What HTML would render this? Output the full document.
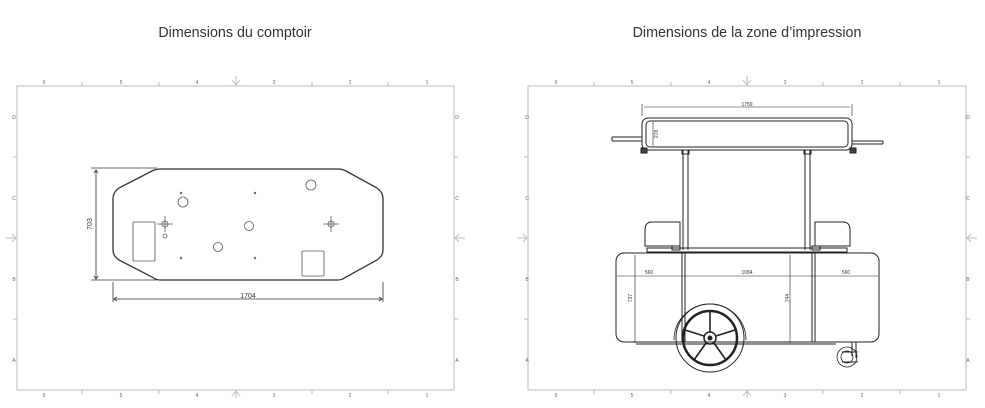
<!DOCTYPE html>
<html><head><meta charset="utf-8"><style>
html,body{margin:0;padding:0;background:#fff;}
svg{display:block;}
text{font-family:"Liberation Sans",sans-serif;}
</style></head><body>
<svg width="985" height="408" viewBox="0 0 985 408" xmlns="http://www.w3.org/2000/svg">
<text x="235" y="37" font-size="14.3" text-anchor="middle" fill="#333">Dimensions du comptoir</text>
<text x="747" y="37" font-size="14.3" text-anchor="middle" fill="#333">Dimensions de la zone d’impression</text>

<!-- LEFT FRAME -->
<g stroke="#bbb" stroke-width="1" fill="none">
<rect x="17" y="86" width="437" height="304"/>
<path d="M82 82v4M159 82v4M312 82v4M388 82v4M82 390v4M159 390v4M312 390v4M388 390v4M13 157h4M13 319h4M454 157h4M454 319h4"/>
<path d="M236 76v8M232 80l4 5 4-5M236 390v8M232 396l4-5 4 5M6 238h10M12 234l4 4-4 4M455 238h10M459 234l-4 4 4 4"/>
</g>
<g font-size="5" fill="#666" text-anchor="middle">
<text x="44" y="84">6</text><text x="121" y="84">5</text><text x="197" y="84">4</text><text x="274" y="84">3</text><text x="350" y="84">2</text><text x="427" y="84">1</text>
<text x="44" y="397">6</text><text x="121" y="397">5</text><text x="197" y="397">4</text><text x="274" y="397">3</text><text x="350" y="397">2</text><text x="427" y="397">1</text>
<text x="14" y="119">D</text><text x="14" y="200">C</text><text x="14" y="281">B</text><text x="14" y="362">A</text>
<text x="457" y="119">D</text><text x="457" y="200">C</text><text x="457" y="281">B</text><text x="457" y="362">A</text>
</g>
<g stroke="#333" fill="none" stroke-width="1">
<path d="M160 169H338Q342 169 346 171L377 188Q383 192 383 199V250Q383 256 377 260L346 277Q342 280 338 280H160Q156 280 152 277L119 260Q113 256 113 250V199Q113 192 119 188L152 171Q156 169 160 169Z" stroke-width="1.3"/>
<path d="M91 168h66M91 280h66M96 170v109M113 282v20M383 282v20M114 299h268" stroke-width="0.8"/>
<path d="M94 173l2-3 2 3M94 276l2 3 2-3M117 297l-3 2 3 2M379 297l3 2-3 2" stroke-width="0.8"/>
</g>
<text x="92" y="224" font-size="7" fill="#333" transform="rotate(-90 92 224)" text-anchor="middle">703</text>
<text x="248" y="298" font-size="7" fill="#333" text-anchor="middle">1704</text>
<g stroke="#555" fill="none" stroke-width="0.8">
<rect x="133" y="222" width="22" height="39" rx="1"/>
<rect x="302" y="251" width="22" height="25" rx="1"/>
<circle cx="183" cy="202" r="5"/><circle cx="311" cy="185" r="5"/><circle cx="249" cy="226" r="4.5"/><circle cx="218" cy="247" r="4.5"/>
<circle cx="165" cy="236" r="2"/>
<circle cx="165" cy="224" r="3"/><path d="M157 224h16M165 216v16"/>
<circle cx="331" cy="224" r="3"/><path d="M323 224h16M331 216v16"/>
<circle cx="181" cy="193" r="0.8"/><circle cx="255" cy="193" r="0.8"/><circle cx="181" cy="258" r="0.8"/><circle cx="255" cy="258" r="0.8"/>
</g>

<!-- RIGHT FRAME -->
<g stroke="#bbb" stroke-width="1" fill="none">
<rect x="528" y="86" width="438" height="304"/>
<path d="M594 82v4M671 82v4M823 82v4M900 82v4M594 390v4M671 390v4M823 390v4M900 390v4M524 157h4M524 319h4M966 157h4M966 319h4"/>
<path d="M747 76v8M743 80l4 5 4-5M747 390v8M743 396l4-5 4 5M517 238h10M523 234l4 4-4 4M967 238h10M971 234l-4 4 4 4"/>
</g>
<g font-size="5" fill="#666" text-anchor="middle">
<text x="556" y="84">6</text><text x="632" y="84">5</text><text x="709" y="84">4</text><text x="785" y="84">3</text><text x="862" y="84">2</text><text x="939" y="84">1</text>
<text x="556" y="397">6</text><text x="632" y="397">5</text><text x="709" y="397">4</text><text x="785" y="397">3</text><text x="862" y="397">2</text><text x="939" y="397">1</text>
<text x="527" y="119">D</text><text x="527" y="200">C</text><text x="527" y="281">B</text><text x="527" y="362">A</text>
<text x="968" y="119">D</text><text x="968" y="200">C</text><text x="968" y="281">B</text><text x="968" y="362">A</text>
</g>
<g stroke="#222" fill="none" stroke-width="1">
<rect x="642" y="118" width="210" height="32" rx="6"/>
<rect x="646" y="121" width="202" height="26" rx="4"/>
<path d="M612 137h30M612 141h30M852 141h31M852 144h31M612 137v4M883 141v3"/>
<path d="M642 104v12M852 104v12M644 107h206" stroke-width="0.6"/>
<path d="M653 122v24" stroke-width="0.6"/>
<rect x="641" y="148" width="6" height="5" fill="#444"/><rect x="850" y="148" width="6" height="5" fill="#444"/>
<path d="M683 150v100M688 150v100M805 150v100M810 150v100"/>
<rect x="682" y="150" width="7" height="4"/><rect x="804" y="150" width="7" height="4"/>
<path d="M680 222H652Q645 222 645 230V246H680Z"/>
<path d="M815 222H843Q850 222 850 230V246H815Z"/>
<rect x="647" y="248" width="200" height="4"/>
<rect x="672" y="246" width="8" height="4"/><rect x="812" y="246" width="8" height="4"/>
<rect x="616" y="253" width="263" height="89" rx="8"/>
<path d="M682 252v90M685 252v90M812 252v90M815 252v90"/>
<path d="M636 342h200M636 344h200" />
<path d="M635 255v88M790 255v88M617 276h261" stroke-width="0.6"/>
<path d="M674 340A36 36 0 0 1 746 340" stroke-width="0.8"/>
<circle cx="710" cy="338" r="34"/>
<circle cx="710" cy="338" r="27" stroke-width="2.5"/>
<circle cx="710" cy="338" r="6" stroke-width="1.5"/>
<circle cx="710" cy="338" r="2" fill="#222"/>
<g stroke-width="1.6"><path d="M710 332V311M716 336L735 330M714 343L726 360M706 343L694 360M704 336L685 330"/></g>
<path d="M856 342v16M852 342v14M842 352h16M842 362h16"/>
<circle cx="847" cy="357" r="10" stroke-width="0.8"/>
<circle cx="847" cy="357" r="6" stroke-width="0.8"/>
</g>
<g font-size="5" fill="#333" text-anchor="middle">
<text x="747" y="106">1759</text>
<text x="649" y="274">560</text><text x="747" y="274">1084</text><text x="846" y="274">560</text>
</g>
<text x="658" y="134" font-size="5" fill="#333" transform="rotate(-90 658 134)" text-anchor="middle">278</text>
<text x="632" y="298" font-size="5" fill="#333" transform="rotate(-90 632 298)" text-anchor="middle">737</text>
<text x="789" y="298" font-size="5" fill="#333" transform="rotate(-90 789 298)" text-anchor="middle">744</text>
</svg>
</body></html>
